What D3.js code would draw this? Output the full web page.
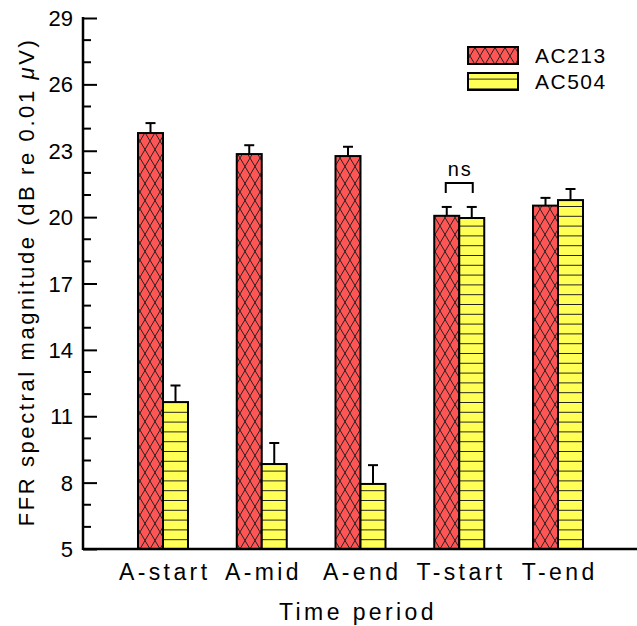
<!DOCTYPE html>
<html>
<head>
<meta charset="utf-8">
<script src="https://cdn.jsdelivr.net/npm/d3@7"></script>
<style>
  body { margin: 0; background: #fff; }
  text { font-family: "Liberation Sans", Arial, sans-serif; fill: #000; }
</style>
</head>
<body>
<svg id="chart" width="637" height="626"></svg>
<script>
// dados
var periods = ["A-start", "A-mid", "A-end", "T-start", "T-end"];
var seriesNames = ["AC213", "AC504"];
var ac213 = [23.8, 22.85, 22.76, 20.06, 20.52];
var ac213Err = [0.45, 0.4, 0.42, 0.4, 0.35];
var ac504 = [11.64, 8.84, 7.94, 19.96, 20.77];
var ac504Err = [0.75, 0.95, 0.85, 0.5, 0.5];
var yTicks = [5, 8, 11, 14, 17, 20, 23, 26, 29];

var svg = d3.select("#chart");
var mLeft = 83, mRight = 637, mTop = 18, mBottom = 549;

var y = d3.scaleLinear().domain([5, 29]).range([mBottom, mTop]);
var x = d3.scalePoint().domain(periods).range([163, 558]);
var barW = 25;

// padrões de preenchimento
var defs = svg.append("defs");
var hatch = defs.append("pattern")
  .attr("id", "hatch").attr("patternUnits", "userSpaceOnUse")
  .attr("width", 10).attr("height", 17).attr("y", mBottom);
hatch.append("rect").attr("width", 10).attr("height", 17).attr("fill", "#ff5555");
hatch.append("path").attr("d", "M0,0L10,17M10,0L0,17")
  .attr("stroke", "#222").attr("stroke-width", 1).attr("fill", "none");

var lines = defs.append("pattern")
  .attr("id", "lines").attr("patternUnits", "userSpaceOnUse")
  .attr("width", 10).attr("height", 9.8).attr("y", mBottom);
lines.append("rect").attr("width", 10).attr("height", 9.8).attr("fill", "#ffff55");
lines.append("line").attr("x1", 0).attr("x2", 10).attr("y1", 0.5).attr("y2", 0.5)
  .attr("stroke", "#222").attr("stroke-width", 1);

var fills = ["url(#hatch)", "url(#lines)"];

// barras
var groups = [ac213, ac504];
var errs = [ac213Err, ac504Err];
groups.forEach(function (vals, s) {
  var g = svg.append("g");
  vals.forEach(function (v, i) {
    var x0 = x(periods[i]) - barW + s * barW;
    var cx = x0 + barW / 2;
    // barra de erro
    var yTop = y(v + errs[s][i]);
    g.append("line").attr("x1", cx).attr("x2", cx).attr("y1", y(v)).attr("y2", yTop)
      .attr("stroke", "#000").attr("stroke-width", 2);
    g.append("line").attr("x1", cx - 5).attr("x2", cx + 5).attr("y1", yTop).attr("y2", yTop)
      .attr("stroke", "#000").attr("stroke-width", 2);
    g.append("rect")
      .attr("x", x0).attr("y", y(v))
      .attr("width", barW).attr("height", mBottom - y(v))
      .attr("fill", fills[s]).attr("stroke", "#000").attr("stroke-width", 2);
  });
});

// eixo y
var yAxis = d3.axisRight(y).tickValues(yTicks).tickSize(14).tickFormat("");
var gy = svg.append("g").attr("transform", "translate(" + mLeft + ",0)").call(yAxis);
gy.select(".domain").remove();
gy.selectAll(".tick line").attr("stroke-width", 2);
var minor = d3.range(5, 30).filter(function (d) { return (d - 5) % 3 !== 0; });
svg.append("g").selectAll("line").data(minor).enter().append("line")
  .attr("x1", mLeft).attr("x2", mLeft + 8)
  .attr("y1", function (d) { return y(d); }).attr("y2", function (d) { return y(d); })
  .attr("stroke", "#000").attr("stroke-width", 2);
svg.append("g").selectAll("text").data(yTicks).enter().append("text")
  .attr("x", 73).attr("y", function (d) { return y(d) + 8; })
  .attr("text-anchor", "end").attr("font-size", 22)
  .text(function (d) { return d; });

// linhas dos eixos
svg.append("line").attr("x1", mLeft).attr("x2", mLeft).attr("y1", mTop - 1).attr("y2", mBottom + 1)
  .attr("stroke", "#000").attr("stroke-width", 2.5);
svg.append("line").attr("x1", mLeft).attr("x2", mRight).attr("y1", mBottom).attr("y2", mBottom)
  .attr("stroke", "#000").attr("stroke-width", 2.5);

// rótulos x
svg.append("g").selectAll("text").data(periods).enter().append("text")
  .attr("x", function (d) { return x(d) + 1.7; }).attr("y", 580)
  .attr("text-anchor", "middle").attr("font-size", 23).attr("letter-spacing", 3.4)
  .text(function (d) { return d; });

svg.append("text").attr("x", 358).attr("y", 620)
  .attr("text-anchor", "middle").attr("font-size", 23).attr("letter-spacing", 3.4)
  .text("Time period");

var yl = svg.append("text")
  .attr("transform", "translate(34,282) rotate(-90)")
  .attr("text-anchor", "middle").attr("font-size", 22).attr("letter-spacing", 2.6);
yl.append("tspan").text("FFR spectral magnitude (dB re 0.01 ");
yl.append("tspan").attr("font-style", "italic").text("μ");
yl.append("tspan").text("V)");

// ns
var b1 = x("T-start") - barW / 2, b2 = x("T-start") + barW / 2;
svg.append("path")
  .attr("d", "M" + (b1 - 1) + ",193V183H" + (b2 + 1) + "V193")
  .attr("fill", "none").attr("stroke", "#000").attr("stroke-width", 2);
svg.append("text").attr("x", x("T-start") + 1).attr("y", 176)
  .attr("text-anchor", "middle").attr("font-size", 20).attr("letter-spacing", 2)
  .text("ns");

// legenda
var leg = svg.append("g");
seriesNames.forEach(function (name, i) {
  var ly = 47 + i * 26;
  leg.append("rect").attr("x", 468).attr("y", ly).attr("width", 50).attr("height", 17)
    .attr("fill", fills[i]).attr("stroke", "#000").attr("stroke-width", 2);
  leg.append("text").attr("x", 535).attr("y", ly + 16).attr("font-size", 21)
    .attr("letter-spacing", 1.5).text(name);
});
</script>
</body>
</html>
